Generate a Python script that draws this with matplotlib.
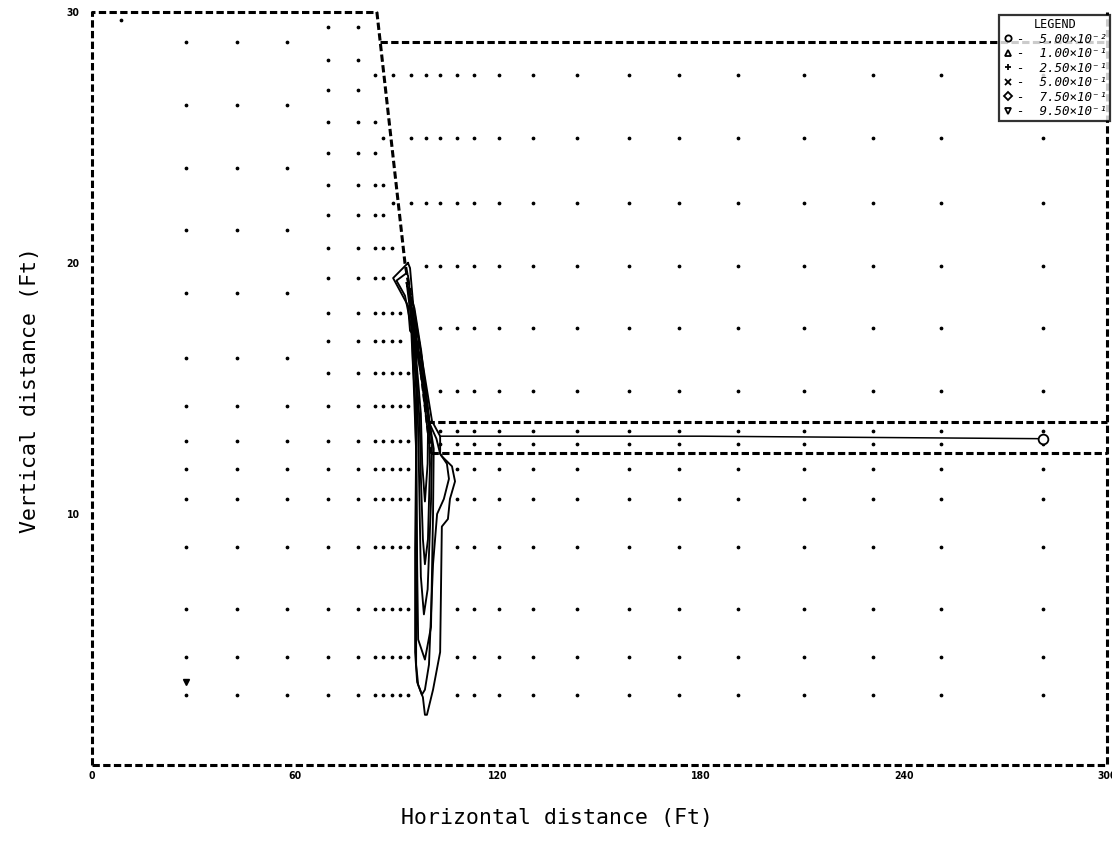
import numpy as np
import matplotlib.pyplot as plt

# --- boundary of the section (ft) ---
slope_x = [84.2, 92.5, 95.5, 99.0, 100.2]
slope_y = [30.0, 20.0, 17.7, 13.7, 12.4]
water_y = 28.8
chan_top = 13.65
chan_bot = 12.43

# --- mesh nodes (ft) ---
coarse_x = [27.8, 42.9, 57.6]
coarse_y = [28.8, 26.3, 23.8, 21.3, 18.8, 16.2, 14.3, 12.9, 11.8, 10.6, 8.7, 6.2, 4.3, 2.8]
mid_x = [69.8, 78.6]
mid_y = [29.4, 28.1, 26.9, 25.6, 24.4, 23.1, 21.9, 20.6, 19.4, 18.0, 16.9, 15.6,
         14.3, 12.9, 11.8, 10.6, 8.7, 6.2, 4.3, 2.8]
near_x = [83.6, 86.0, 88.7, 91.0, 93.4]
near_n = [0, 0, 0, 1, 1, 2, 2, 3, 2, 4, 4, 5, 5, 5, 5, 5, 5, 5, 5, 5]
right_x = [89.0, 94.3, 98.7, 102.9, 107.9, 112.9, 120.3, 130.3, 143.4, 158.7, 173.5,
           190.9, 210.4, 230.8, 250.9, 281.1]
right_up_y = [27.5, 25.0, 22.4, 19.9, 17.4, 14.9]
right_up_start = [0, 1, 0, 2, 3, 3]
chan_y = [13.3, 12.8]
chan_start = 3
low_y = [11.8, 10.6, 8.7, 6.2, 4.3, 2.8]
low_start = 4
extra_x = [8.6, 83.6, 86.0]
extra_y = [29.7, 27.5, 25.0]

# --- concentration contours (ft) ---
c1_x = [93.4, 89.0, 91.0, 93.4, 94.0, 94.6, 94.9, 95.5, 95.8, 95.5, 95.5, 96.1, 97.8,
        98.4, 99.0, 100.8, 102.9, 103.4, 105.2, 105.8, 107.3, 106.4, 103.4, 102.9,
        102.9, 100.5, 96.9, 94.9, 94.0, 93.4]
c1_y = [20.0, 19.4, 18.9, 18.3, 17.3, 17.2, 15.9, 14.5, 12.5, 8.6, 4.5, 3.3, 2.7,
        2.0, 2.0, 3.0, 4.5, 9.5, 9.8, 10.6, 11.3, 11.9, 12.3, 12.4, 13.1, 13.7,
        16.7, 18.4, 19.8, 20.0]
c2_x = [93.0, 90.0, 92.5, 94.3, 95.0, 95.8, 95.8, 95.8, 96.4, 97.5, 98.4, 99.6,
        100.8, 102.0, 104.0, 105.5, 104.9, 102.9, 101.8, 99.8, 96.5, 94.3, 93.4, 93.0]
c2_y = [19.6, 19.3, 18.7, 17.5, 15.5, 12.5, 8.0, 4.0, 3.2, 2.8, 3.0, 4.0,
        8.0, 10.0, 10.6, 11.4, 12.0, 12.4, 13.0, 13.6, 16.5, 18.4, 19.5, 19.6]
c3_x = [93.0, 94.6, 95.8, 96.1, 96.4, 98.4, 100.2, 100.8, 101.0, 99.6, 97.3, 95.3, 93.0]
c3_y = [19.2, 17.5, 15.0, 8.0, 5.0, 4.2, 5.5, 10.0, 12.6, 13.8, 16.5, 18.2, 19.2]
c4_x = [93.6, 95.0, 96.2, 96.6, 97.2, 98.1, 99.2, 100.2, 100.5, 99.0, 96.8, 93.6]
c4_y = [18.8, 17.0, 14.5, 12.0, 7.5, 6.0, 7.0, 10.5, 12.8, 14.5, 16.8, 18.8]
c5_x = [94.2, 95.6, 96.9, 97.2, 97.8, 98.4, 99.3, 99.9, 99.6, 97.0, 94.2]
c5_y = [18.3, 16.3, 13.5, 11.5, 9.0, 8.0, 9.0, 12.0, 13.5, 16.0, 18.3]
c6_x = [95.2, 97.2, 97.6, 98.4, 99.2, 99.3, 97.6, 95.2]
c6_y = [17.2, 14.0, 12.0, 10.5, 12.0, 13.2, 15.2, 17.2]
tail_x = [102.9, 180.0, 281.1]
tail_y = [13.1, 13.1, 13.0]
stray_x = [27.8]
stray_y = [3.3]

levels = ['5.00', '1.00', '2.50', '5.00', '7.50', '9.50']
exps = ['\u207b\u00b2', '\u207b\u00b9', '\u207b\u00b9', '\u207b\u00b9', '\u207b\u00b9', '\u207b\u00b9']
symbols = ['o', '^', '+', 'x', 'D', 'v']

fig = plt.figure(figsize=(11.12, 8.41), dpi=100)
ax = fig.add_axes([92 / 1112, 76 / 841, 1015 / 1112, 753 / 841])
ax.set_xlim(0, 300)
ax.set_ylim(0, 30)
for s in ax.spines.values():
    s.set_visible(False)

# mesh nodes
px, py = [], []
for y in coarse_y:
    for x in coarse_x:
        px.append(x); py.append(y)
for y, n in zip(mid_y, near_n):
    for x in mid_x + near_x[:n]:
        px.append(x); py.append(y)
for y, k in zip(right_up_y, right_up_start):
    for x in right_x[k:]:
        px.append(x); py.append(y)
for y in chan_y:
    for x in right_x[chan_start:]:
        px.append(x); py.append(y)
for y in low_y:
    for x in right_x[low_start:]:
        px.append(x); py.append(y)
px += extra_x
py += extra_y
ax.plot(px, py, ls='none', marker='o', ms=1.7, color='black', mec='black')

# boundary (dashed)
dash = dict(color='black', lw=2.2, ls=(0, (2.4, 1.1)), clip_on=False)
ax.plot([0, 0, slope_x[0]], [0, 30, 30], **dash)
ax.plot(slope_x, slope_y, **dash)
ax.plot([0, 300, 300], [0, 0, 30], **dash)
ax.plot([85.1, 300], [water_y, water_y], **dash)
ax.plot([slope_x[3], 300], [chan_top, chan_top], **dash)
ax.plot([slope_x[4], 300], [chan_bot, chan_bot], **dash)

# contours
for cx, cy in [(c1_x, c1_y), (c2_x, c2_y), (c3_x, c3_y), (c4_x, c4_y),
               (c5_x, c5_y), (c6_x, c6_y)]:
    ax.plot(cx, cy, color='black', lw=1.35)
ax.plot(tail_x, tail_y, color='black', lw=1.1)
ax.plot(tail_x[-1], tail_y[-1], marker='o', ms=7, mfc='white', mec='black', mew=1.3)
ax.plot(stray_x, stray_y, marker='v', ms=5, color='black', ls='none')

# legend
handles = []
for sym, lv, ex in zip(symbols, levels, exps):
    h, = ax.plot([], [], ls='none', marker=sym, ms=4.5, mfc='none', mec='black', mew=1.3,
                 label='-  ' + lv + '\u00d710' + ex)
    handles.append(h)
leg = ax.legend(handles=handles, loc='upper right', bbox_to_anchor=(1.003, 0.996),
                borderaxespad=0, frameon=True, fancybox=False, handlelength=0.8,
                handletextpad=0.35, labelspacing=0.12, borderpad=0.25,
                title='LEGEND',
                prop={'family': 'DejaVu Sans Mono', 'size': 9, 'style': 'oblique'})
leg.get_title().set_fontsize(8.5)
leg.get_title().set_family('DejaVu Sans Mono')
leg.get_frame().set_edgecolor('black')
leg.get_frame().set_linewidth(1.6)
leg.set_zorder(5)

# ticks
ax.set_xticks([0, 60, 120, 180, 240, 300])
ax.set_xticklabels(['0', '60', '120', '180', '240', '300'])
ax.set_yticks([10, 20, 30])
ax.set_yticklabels(['10', '20', '30'])
ax.tick_params(length=0, labelsize=7.5)
ax.tick_params(axis='x', pad=4)
ax.tick_params(axis='y', pad=9)
for t in ax.get_xticklabels() + ax.get_yticklabels():
    t.set_fontweight('bold')
    t.set_fontstretch('condensed')

fig.text(30 / 1112, 1 - 390 / 841, 'Vertical distance (Ft)', rotation=90,
         ha='center', va='center', family='DejaVu Sans Mono', fontsize=15.5)
fig.text(557 / 1112, 1 - 818 / 841, 'Horizontal distance (Ft)',
         ha='center', va='center', family='DejaVu Sans Mono', fontsize=15.5)

fig.savefig('out.png', dpi=100)
